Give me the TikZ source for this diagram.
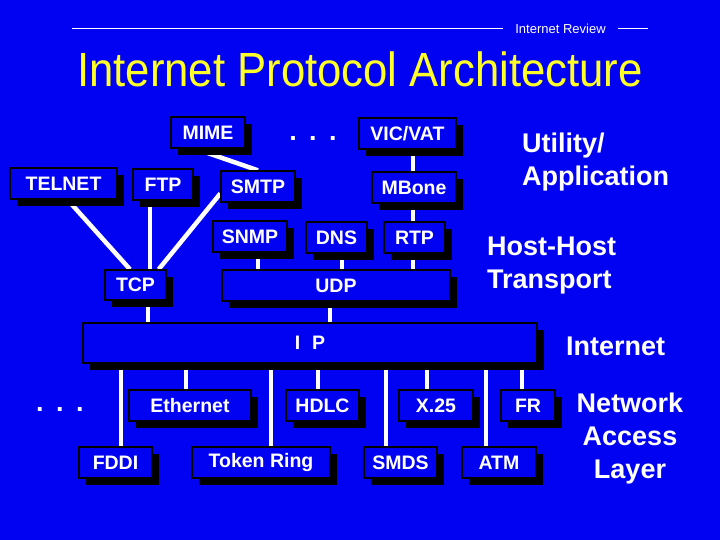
\documentclass[tikz,border=0pt]{standalone}
\usepackage{fontspec}
\setmainfont{Liberation Sans}
\usetikzlibrary{shadows,calc}
\definecolor{bgblue}{RGB}{2,2,242}
\definecolor{ttl}{RGB}{255,255,40}
\pgfdeclarelayer{bgl}\pgfdeclarelayer{lines}
\pgfsetlayers{bgl,lines,main}
\begin{document}
\begin{tikzpicture}[x=1pt,y=-1pt,
  bx/.style={draw=black, line width=1.3pt, fill=bgblue, text=white,
    font=\fontsize{19.5}{22}\selectfont\bfseries, inner sep=0pt, minimum height=31pt,
    drop shadow={shadow xshift=7pt, shadow yshift=-7pt, fill=black, opacity=1}},
  conn/.style={white, line width=4.5pt},
  lbl/.style={text=white, font=\fontsize{27}{33}\selectfont\bfseries, inner sep=0pt},
  dotsn/.style={text=white, font=\fontsize{27}{30}\selectfont\bfseries, inner sep=0pt}]
\begin{pgfonlayer}{bgl}
\fill[bgblue] (0,0) rectangle (720,540);
\end{pgfonlayer}
\useasboundingbox (0,0) rectangle (720,540);

% header
\node[text=white, font=\fontsize{13}{14}\selectfont, inner sep=0pt] (review) at (560.5,29) {Internet Review};
\coordinate (hl) at (72,29);
\coordinate (hr) at (648,29);
\draw[white, line width=1pt] (hl) -- ([xshift=-12pt]review.west);
\draw[white, line width=1pt] ([xshift=12pt]review.east) -- (hr);
\node[anchor=base west, inner sep=0pt, text=ttl, font=\fontsize{48}{50}\selectfont] (title) at (77,87) {\scalebox{0.91}[1]{Internet Protocol Architecture}};

% application layer
\node[bx, minimum width=74pt] (mime) at (208,132.5) {MIME};
\node[bx, minimum width=107pt] (telnet) at (63.5,183.5) {TELNET};
\node[bx, minimum width=60pt] (ftp) at (163,184.5) {FTP};
\node[bx, minimum width=74pt] (smtp) at (258,186.5) {SMTP};
\node[bx, minimum width=74pt] (snmp) at (250,236.5) {SNMP};
\node[bx, minimum width=61pt] (dns) at (336.5,237.5) {DNS};
\node[bx, minimum width=61pt] (rtp) at (414.5,237.5) {RTP};
\node[bx, minimum width=97pt] (vic) at (407.5,133.5) {VIC/VAT};
\node[bx, minimum width=84pt] (mbone) at (414,187.5) {MBone};
\node[dotsn] (dots1) at (313,138) {.\hspace{12.5pt}.\hspace{12.5pt}.};

% transport
\node[bx, minimum width=61pt, minimum height=30pt] (tcp) at (135.5,285) {TCP};
\node[bx, minimum width=228pt] (udp) at (336,285.5) {UDP};

% internet
\node[bx, minimum width=454pt, minimum height=40pt] (ip) at (310,343) {I\hspace{0.6em}P};

% network access
\node[bx, minimum width=122pt] (eth) at (190,405.5) {Ethernet};
\node[bx, minimum width=73pt] (hdlc) at (322.5,405.5) {HDLC};
\node[bx, minimum width=74pt] (x25) at (436,405.5) {X.25};
\node[bx, minimum width=54pt] (fr) at (528,405.5) {FR};
\node[bx, minimum width=73pt] (fddi) at (115.5,462.5) {FDDI};
\node[bx, minimum width=138pt] (token) at (261,462.5) {Token Ring};
\node[bx, minimum width=73pt] (smds) at (400.5,462.5) {SMDS};
\node[bx, minimum width=74pt] (atm) at (499,462.5) {ATM};
\node[dotsn] (dots2) at (60,409) {.\hspace{12.5pt}.\hspace{12.5pt}.};

% right labels
\node[lbl, anchor=west, align=left] (util) at (522,162) {Utility/\\Application};
\node[lbl, anchor=west, align=left] (hht) at (487,266) {Host-Host\\Transport};
\node[lbl, anchor=west] (inet) at (566,346) {Internet};
\node[lbl, align=center] (nal) at (630,439) {Network\\Access\\Layer};

% connectors
\begin{pgfonlayer}{lines}
\draw[conn] ([xshift=-13pt]mime.south) -- (smtp.north);
\draw[conn] ([xshift=4pt]telnet.south) -- ([xshift=-5.5pt]tcp.north);
\draw[conn] ([xshift=-13pt]ftp.south) -- ([xshift=-13pt]ftp.south |- tcp.north);
\draw[conn] ([yshift=-7pt]smtp.west) -- ([xshift=-8pt]tcp.north east);
\draw[conn] ([xshift=8pt]snmp.south) -- ([xshift=8pt]snmp.south |- udp.north);
\draw[conn] ([xshift=5.5pt]dns.south) -- ([xshift=5.5pt]dns.south |- udp.north);
\draw[conn] ([xshift=-1.5pt]rtp.south) -- ([xshift=-1.5pt]rtp.south |- udp.north);
\draw[conn] ([xshift=5.5pt]vic.south) -- ([xshift=5.5pt]vic.south |- mbone.north);
\draw[conn] ([xshift=-1pt]mbone.south) -- ([xshift=-1pt]mbone.south |- rtp.north);
\draw[conn] ([xshift=12.5pt]tcp.south) -- ([xshift=12.5pt]tcp.south |- ip.north);
\draw[conn] ([xshift=-6pt]udp.south) -- ([xshift=-6pt]udp.south |- ip.north);
\draw[conn] ([xshift=5.5pt]fddi.north) -- ([xshift=5.5pt]fddi.north |- ip.south);
\draw[conn] ([xshift=-4pt]eth.north) -- ([xshift=-4pt]eth.north |- ip.south);
\draw[conn] ([xshift=10pt]token.north) -- ([xshift=10pt]token.north |- ip.south);
\draw[conn] ([xshift=-4.5pt]hdlc.north) -- ([xshift=-4.5pt]hdlc.north |- ip.south);
\draw[conn] ([xshift=-14.5pt]smds.north) -- ([xshift=-14.5pt]smds.north |- ip.south);
\draw[conn] ([xshift=-9pt]x25.north) -- ([xshift=-9pt]x25.north |- ip.south);
\draw[conn] ([xshift=-13pt]atm.north) -- ([xshift=-13pt]atm.north |- ip.south);
\draw[conn] ([xshift=-6pt]fr.north) -- ([xshift=-6pt]fr.north |- ip.south);
\end{pgfonlayer}
\end{tikzpicture}
\end{document}
